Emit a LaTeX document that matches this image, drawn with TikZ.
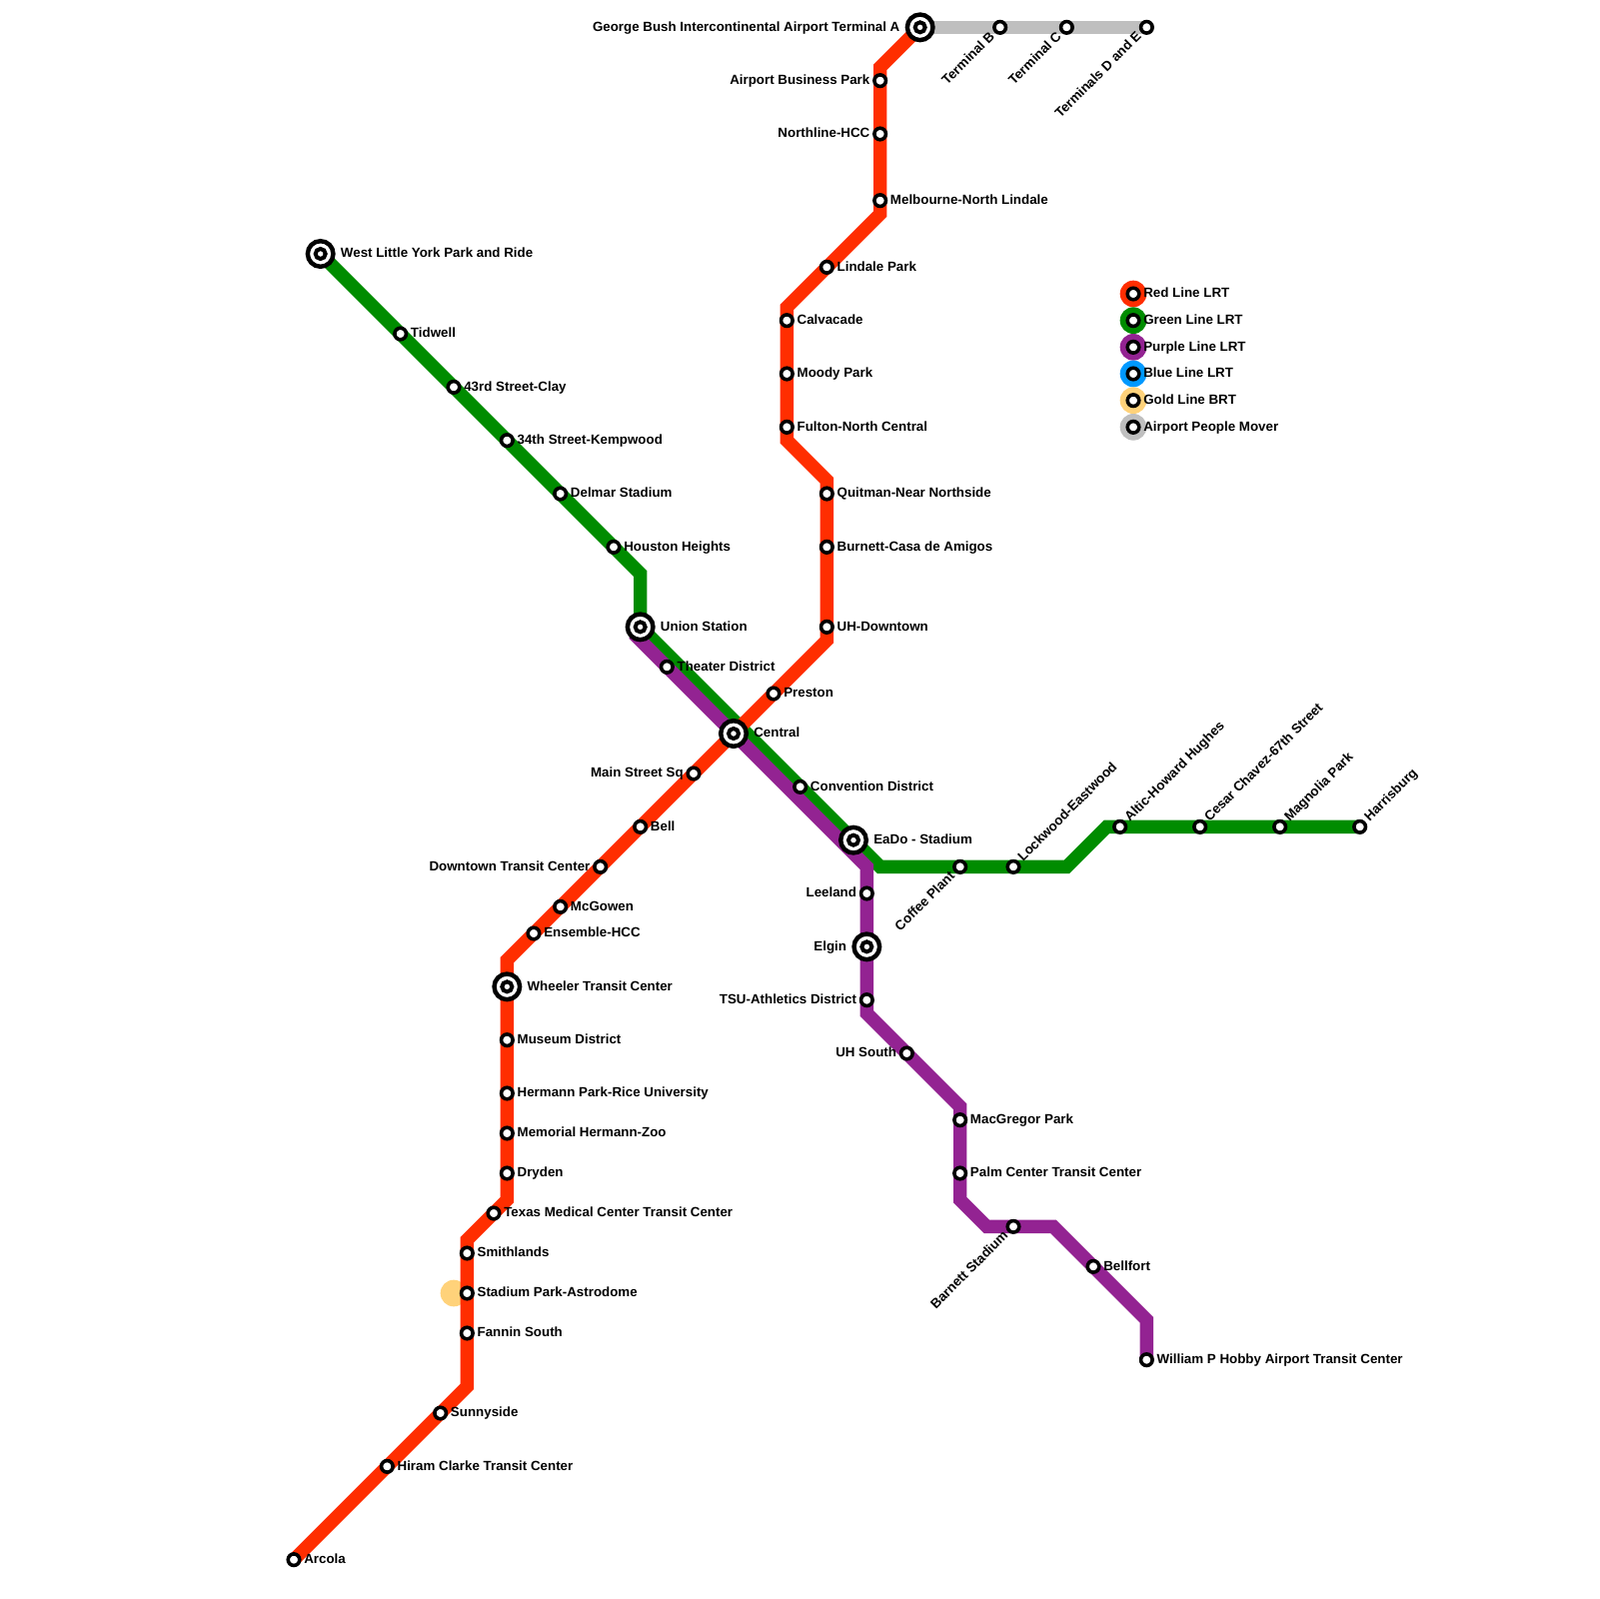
\documentclass[tikz,border=0pt]{standalone}
\usepackage{fontspec}
\setmainfont{Liberation Sans}
\usetikzlibrary{backgrounds}

\definecolor{redlrt}{HTML}{FF2E00}
\definecolor{greenlrt}{HTML}{008C00}
\definecolor{purplelrt}{HTML}{932392}
\definecolor{bluelrt}{HTML}{0099FF}
\definecolor{goldbrt}{HTML}{FFD27A}
\definecolor{moverapm}{HTML}{BFBFBF}

\tikzset{
  metro/.style={line width=3mm,line join=miter},
  disc/.style={circle,minimum size=6mm,inner sep=0pt},
  stn/.style={circle,draw=black,fill=white,line width=0.8mm,minimum size=2.6mm,inner sep=0pt},
  hubring/.style={circle,draw=black,fill=white,line width=1mm,minimum size=5.76mm,inner sep=0pt},
  hubdot/.style={circle,draw=black,fill=white,line width=0.9mm,minimum size=2.25mm,inner sep=0pt},
  lbl/.style={font=\fontsize{8.54pt}{10pt}\selectfont\bfseries,inner sep=0pt,text=black},
  lblr/.style={lbl,anchor=base west,xshift=2.25mm,yshift=-0.84mm},
  lbll/.style={lbl,anchor=base east,xshift=-2.25mm,yshift=-0.84mm},
  hublblr/.style={lbl,anchor=base west,xshift=4.5mm,yshift=-0.84mm},
  hublbll/.style={lbl,anchor=base east,xshift=-4.5mm,yshift=-0.84mm},
  lblup/.style={lbl,anchor=base west,rotate=45,xshift=2.25mm,yshift=-0.84mm},
  lbldown/.style={lbl,anchor=base east,rotate=45,xshift=-2.25mm,yshift=-0.84mm},
}

\begin{document}
\begin{tikzpicture}[x=3mm,y=-3mm]
\useasboundingbox (-0.05,-0.05) rectangle (119.95,119.95);

% Red line stations
\node[hubring] (bush) at (69,2) {};
\node[hubdot] (bushdot) at (bush) {};
\node[hublbll] (bushlbl) at (bush) {George Bush Intercontinental Airport Terminal A};
\node[stn] (business) at (66,6) {};
\node[lbll] (businesslbl) at (business) {Airport Business Park};
\node[stn] (northline) at (66,10) {};
\node[lbll] (northlinelbl) at (northline) {Northline-HCC};
\node[stn] (melbourne) at (66,15) {};
\node[lblr] (melbournelbl) at (melbourne) {Melbourne-North Lindale};
\node[stn] (lindale) at (62,20) {};
\node[lblr] (lindalelbl) at (lindale) {Lindale Park};
\node[stn] (calvacade) at (59,24) {};
\node[lblr] (calvacadelbl) at (calvacade) {Calvacade};
\node[stn] (moody) at (59,28) {};
\node[lblr] (moodylbl) at (moody) {Moody Park};
\node[stn] (fulton) at (59,32) {};
\node[lblr] (fultonlbl) at (fulton) {Fulton-North Central};
\node[stn] (quitman) at (62,37) {};
\node[lblr] (quitmanlbl) at (quitman) {Quitman-Near Northside};
\node[stn] (burnett) at (62,41) {};
\node[lblr] (burnettlbl) at (burnett) {Burnett-Casa de Amigos};
\node[stn] (uhdowntown) at (62,47) {};
\node[lblr] (uhdowntownlbl) at (uhdowntown) {UH-Downtown};
\node[stn] (preston) at (58,52) {};
\node[lblr] (prestonlbl) at (preston) {Preston};
\node[hubring] (central) at (55,55) {};
\node[hubdot] (centraldot) at (central) {};
\node[hublblr] (centrallbl) at (central) {Central};
\node[stn] (mainst) at (52,58) {};
\node[lbll] (mainstlbl) at (mainst) {Main Street Sq};
\node[stn] (bell) at (48,62) {};
\node[lblr] (belllbl) at (bell) {Bell};
\node[stn] (downtowntc) at (45,65) {};
\node[lbll] (downtowntclbl) at (downtowntc) {Downtown Transit Center};
\node[stn] (mcgowen) at (42,68) {};
\node[lblr] (mcgowenlbl) at (mcgowen) {McGowen};
\node[stn] (ensemble) at (40,70) {};
\node[lblr] (ensemblelbl) at (ensemble) {Ensemble-HCC};
\node[hubring] (wheeler) at (38,74) {};
\node[hubdot] (wheelerdot) at (wheeler) {};
\node[hublblr] (wheelerlbl) at (wheeler) {Wheeler Transit Center};
\node[stn] (museum) at (38,78) {};
\node[lblr] (museumlbl) at (museum) {Museum District};
\node[stn] (hermann) at (38,82) {};
\node[lblr] (hermannlbl) at (hermann) {Hermann Park-Rice University};
\node[stn] (memorial) at (38,85) {};
\node[lblr] (memoriallbl) at (memorial) {Memorial Hermann-Zoo};
\node[stn] (dryden) at (38,88) {};
\node[lblr] (drydenlbl) at (dryden) {Dryden};
\node[stn] (tmc) at (37,91) {};
\node[lblr] (tmclbl) at (tmc) {Texas Medical Center Transit Center};
\node[stn] (smithlands) at (35,94) {};
\node[lblr] (smithlandslbl) at (smithlands) {Smithlands};
\node[stn] (stadiumpark) at (35,97) {};
\node[lblr] (stadiumparklbl) at (stadiumpark) {Stadium Park-Astrodome};
\node[stn] (fannin) at (35,100) {};
\node[lblr] (fanninlbl) at (fannin) {Fannin South};
\node[stn] (sunnyside) at (33,106) {};
\node[lblr] (sunnysidelbl) at (sunnyside) {Sunnyside};
\node[stn] (hiram) at (29,110) {};
\node[lblr] (hiramlbl) at (hiram) {Hiram Clarke Transit Center};
\node[stn] (arcola) at (22,117) {};
\node[lblr] (arcolalbl) at (arcola) {Arcola};

% Green line stations
\node[hubring] (littleyork) at (24,19) {};
\node[hubdot] (littleyorkdot) at (littleyork) {};
\node[hublblr] (littleyorklbl) at (littleyork) {West Little York Park and Ride};
\node[stn] (tidwell) at (30,25) {};
\node[lblr] (tidwelllbl) at (tidwell) {Tidwell};
\node[stn] (clay) at (34,29) {};
\node[lblr] (claylbl) at (clay) {43rd Street-Clay};
\node[stn] (kempwood) at (38,33) {};
\node[lblr] (kempwoodlbl) at (kempwood) {34th Street-Kempwood};
\node[stn] (delmar) at (42,37) {};
\node[lblr] (delmarlbl) at (delmar) {Delmar Stadium};
\node[stn] (heights) at (46,41) {};
\node[lblr] (heightslbl) at (heights) {Houston Heights};
\node[hubring] (union) at (48,47) {};
\node[hubdot] (uniondot) at (union) {};
\node[hublblr] (unionlbl) at (union) {Union Station};
\node[stn] (theater) at (50,50) {};
\node[lblr] (theaterlbl) at (theater) {Theater District};
\node[stn] (convention) at (60,59) {};
\node[lblr] (conventionlbl) at (convention) {Convention District};
\node[hubring] (eado) at (64,63) {};
\node[hubdot] (eadodot) at (eado) {};
\node[hublblr] (eadolbl) at (eado) {EaDo - Stadium};
\node[stn] (coffee) at (72,65) {};
\node[lbldown] (coffeelbl) at (coffee) {Coffee Plant};
\node[stn] (lockwood) at (76,65) {};
\node[lblup] (lockwoodlbl) at (lockwood) {Lockwood-Eastwood};
\node[stn] (altic) at (84,62) {};
\node[lblup] (alticlbl) at (altic) {Altic-Howard Hughes};
\node[stn] (cesar) at (90,62) {};
\node[lblup] (cesarlbl) at (cesar) {Cesar Chavez-67th Street};
\node[stn] (magnolia) at (96,62) {};
\node[lblup] (magnolialbl) at (magnolia) {Magnolia Park};
\node[stn] (harrisburg) at (102,62) {};
\node[lblup] (harrisburglbl) at (harrisburg) {Harrisburg};

% Purple line stations
\node[stn] (leeland) at (65,67) {};
\node[lbll] (leelandlbl) at (leeland) {Leeland};
\node[hubring] (elgin) at (65,71) {};
\node[hubdot] (elgindot) at (elgin) {};
\node[hublbll] (elginlbl) at (elgin) {Elgin};
\node[stn] (tsu) at (65,75) {};
\node[lbll] (tsulbl) at (tsu) {TSU-Athletics District};
\node[stn] (uhsouth) at (68,79) {};
\node[lbll] (uhsouthlbl) at (uhsouth) {UH South};
\node[stn] (macgregor) at (72,84) {};
\node[lblr] (macgregorlbl) at (macgregor) {MacGregor Park};
\node[stn] (palm) at (72,88) {};
\node[lblr] (palmlbl) at (palm) {Palm Center Transit Center};
\node[stn] (barnett) at (76,92) {};
\node[lbldown] (barnettlbl) at (barnett) {Barnett Stadium};
\node[stn] (bellfort) at (82,95) {};
\node[lblr] (bellfortlbl) at (bellfort) {Bellfort};
\node[stn] (hobby) at (86,102) {};
\node[lblr] (hobbylbl) at (hobby) {William P Hobby Airport Transit Center};

% Airport people mover stations
\node[stn] (termb) at (75,2) {};
\node[lbldown] (termblbl) at (termb) {Terminal B};
\node[stn] (termc) at (80,2) {};
\node[lbldown] (termclbl) at (termc) {Terminal C};
\node[stn] (termde) at (86,2) {};
\node[lbldown] (termdelbl) at (termde) {Terminals D and E};

% Legend
\node[disc,fill=redlrt] (keyred) at (85,22) {};
\node[stn] (keyreddot) at (keyred) {};
\node[lblr] (keyredlbl) at (keyred) {Red Line LRT};
\node[disc,fill=greenlrt] (keygreen) at (85,24) {};
\node[stn] (keygreendot) at (keygreen) {};
\node[lblr] (keygreenlbl) at (keygreen) {Green Line LRT};
\node[disc,fill=purplelrt] (keypurple) at (85,26) {};
\node[stn] (keypurpledot) at (keypurple) {};
\node[lblr] (keypurplelbl) at (keypurple) {Purple Line LRT};
\node[disc,fill=bluelrt] (keyblue) at (85,28) {};
\node[stn] (keybluedot) at (keyblue) {};
\node[lblr] (keybluelbl) at (keyblue) {Blue Line LRT};
\node[disc,fill=goldbrt] (keygold) at (85,30) {};
\node[stn] (keygolddot) at (keygold) {};
\node[lblr] (keygoldlbl) at (keygold) {Gold Line BRT};
\node[disc,fill=moverapm] (keymover) at (85,32) {};
\node[stn] (keymoverdot) at (keymover) {};
\node[lblr] (keymoverlbl) at (keymover) {Airport People Mover};

% Bends
\coordinate (r1) at (66,5);
\coordinate (r2) at (66,16);
\coordinate (r3) at (59,23);
\coordinate (r4) at (59,33);
\coordinate (r5) at (62,36);
\coordinate (r6) at (62,48);
\coordinate (r7) at (38,72);
\coordinate (r8) at (38,90);
\coordinate (r9) at (35,93);
\coordinate (r10) at (35,104);
\coordinate (g1) at (48,43);
\coordinate (g2) at (66,65);
\coordinate (g3) at (80,65);
\coordinate (g4) at (83,62);
\coordinate (p0) at (47.5,47.5);
\coordinate (p1) at (65,65);
\coordinate (p2) at (65,76);
\coordinate (p3) at (72,83);
\coordinate (p4) at (72,90);
\coordinate (p5) at (74,92);
\coordinate (p6) at (79,92);
\coordinate (p7) at (86,99);

\begin{scope}[on background layer]
\node[disc,fill=goldbrt] (goldstop) at (34,97) {};
\draw[metro,moverapm] (bush.center) -- (termde.center);
\draw[metro,greenlrt] (littleyork.center) -- (g1) -- (union.center) -- (g2) -- (g3) -- (g4) -- (harrisburg.center);
\draw[metro,purplelrt] (p0) -- (p1) -- (p2) -- (p3) -- (p4) -- (p5) -- (p6) -- (p7) -- (hobby.center);
\draw[metro,redlrt] (bush.center) -- (r1) -- (r2) -- (r3) -- (r4) -- (r5) -- (r6) -- (r7) -- (r8) -- (r9) -- (r10) -- (arcola.center);
\end{scope}

\end{tikzpicture}
\end{document}
